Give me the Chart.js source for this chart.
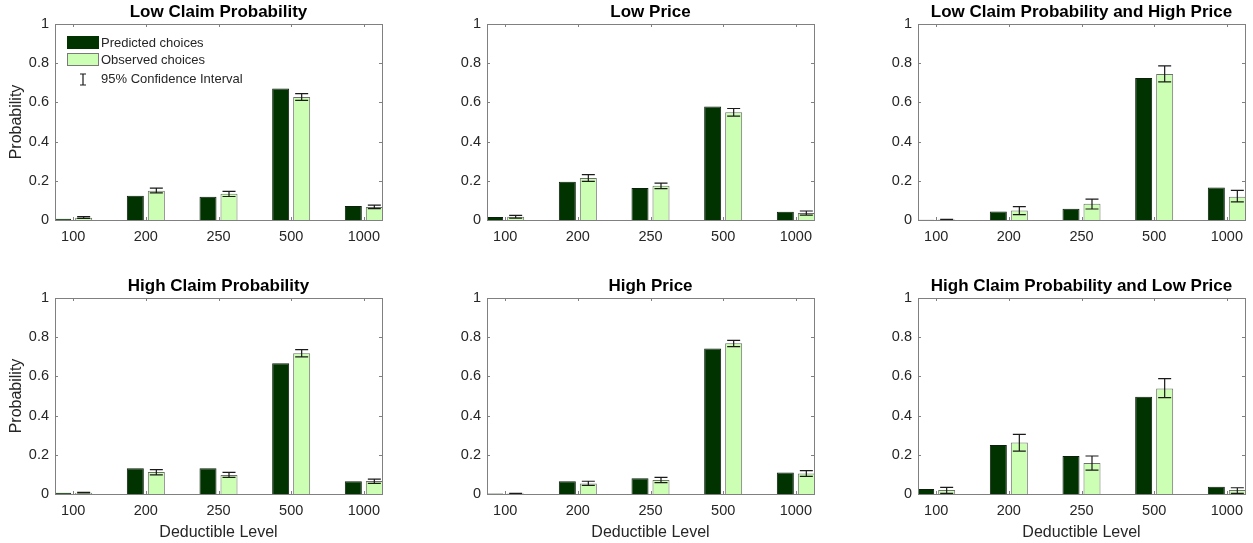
<!DOCTYPE html>
<html>
<head>
<meta charset="utf-8">
<script src="https://cdn.jsdelivr.net/npm/chart.js@4"></script>
<style>
  html, body { margin: 0; padding: 0; background: #fff; overflow: hidden; }
  body { width: 1253px; height: 543px; position: relative; }
  canvas { position: absolute; }
</style>
</head>
<body>
<script>
// deductible levels on the x axis
const levels = ['100', '200', '250', '500', '1000'];
const yTickLabels = ['0', '0.2', '0.4', '0.6', '0.8', '1'];
const panelTitles = [
  'Low Claim Probability', 'Low Price', 'Low Claim Probability and High Price',
  'High Claim Probability', 'High Price', 'High Claim Probability and Low Price'
];

// one row per panel, one value per deductible level
const predicted = [
  [0.007, 0.124, 0.119, 0.671, 0.071],
  [0.015, 0.195, 0.163, 0.579, 0.042],
  [0.001, 0.044, 0.058, 0.725, 0.166],
  [0.007, 0.132, 0.132, 0.667, 0.065],
  [0.002, 0.065, 0.080, 0.742, 0.110],
  [0.025, 0.250, 0.194, 0.496, 0.037]
];
const observed = [
  [0.012, 0.149, 0.134, 0.628, 0.066],
  [0.017, 0.214, 0.175, 0.550, 0.036],
  [0.002, 0.049, 0.083, 0.745, 0.119],
  [0.007, 0.112, 0.097, 0.718, 0.066],
  [0.002, 0.054, 0.071, 0.769, 0.105],
  [0.020, 0.263, 0.158, 0.538, 0.020]
];
const ciLower = [
  [0.008, 0.138, 0.120, 0.610, 0.058],
  [0.010, 0.197, 0.160, 0.530, 0.025],
  [0.000, 0.027, 0.056, 0.705, 0.092],
  [0.005, 0.098, 0.085, 0.700, 0.054],
  [0.001, 0.044, 0.058, 0.752, 0.090],
  [0.003, 0.219, 0.122, 0.492, 0.003]
];
const ciUpper = [
  [0.017, 0.163, 0.146, 0.645, 0.076],
  [0.024, 0.231, 0.188, 0.569, 0.046],
  [0.003, 0.068, 0.107, 0.786, 0.151],
  [0.009, 0.124, 0.110, 0.737, 0.076],
  [0.003, 0.065, 0.085, 0.784, 0.119],
  [0.034, 0.304, 0.194, 0.589, 0.032]
];

const FONT = '"Liberation Sans", Arial, Helvetica, sans-serif';
const darkGreen = '#003300';
const lightGreen = '#ccffb3';
const axisGray = '#808080';
const textGray = '#262626';

const colLeft = [55, 487, 918];
const rowTop = [24, 298];

// box, inward ticks, error bars and legend like the matlab figure
const matlabLook = {
  id: 'matlabLook',
  afterDatasetsDraw(chart, args, opts) {
    const k = opts.panel;
    const ctx = chart.ctx;
    const y = chart.scales.y;
    const meta = chart.getDatasetMeta(1);
    ctx.save();
    ctx.strokeStyle = '#1a1a1a';
    ctx.lineWidth = 1.2;
    ciLower[k].forEach((lo, i) => {
      const px = meta.data[i].x;
      const y0 = y.getPixelForValue(lo);
      const y1 = y.getPixelForValue(ciUpper[k][i]);
      ctx.beginPath();
      ctx.moveTo(px, y0); ctx.lineTo(px, y1);
      ctx.moveTo(px - 6.5, y0); ctx.lineTo(px + 6.5, y0);
      ctx.moveTo(px - 6.5, y1); ctx.lineTo(px + 6.5, y1);
      ctx.stroke();
    });
    ctx.restore();
  },
  afterDraw(chart, args, opts) {
    const ctx = chart.ctx;
    const a = chart.chartArea;
    const {x, y} = chart.scales;
    ctx.save();
    ctx.strokeStyle = axisGray;
    ctx.lineWidth = 1;
    ctx.strokeRect(Math.round(a.left) + 0.5, Math.round(a.top) + 0.5,
      Math.round(a.right - a.left), Math.round(a.bottom - a.top));
    ctx.beginPath();
    y.ticks.forEach(t => {
      const py = Math.round(y.getPixelForValue(t.value)) + 0.5;
      ctx.moveTo(a.left, py); ctx.lineTo(a.left + 3, py);
      ctx.moveTo(a.right, py); ctx.lineTo(a.right - 3, py);
    });
    x.ticks.forEach(t => {
      const px = Math.round(x.getPixelForValue(t.value)) + 0.5;
      ctx.moveTo(px, a.bottom); ctx.lineTo(px, a.bottom - 3);
      ctx.moveTo(px, a.top); ctx.lineTo(px, a.top + 3);
    });
    ctx.stroke();

    if (opts.panel === 0) {
      const lx = a.left + 12, tx = a.left + 46;
      ctx.fillStyle = darkGreen;
      ctx.fillRect(lx, a.top + 12, 32, 13);
      ctx.fillStyle = lightGreen;
      ctx.fillRect(lx, a.top + 29, 32, 13);
      ctx.strokeStyle = '#7a7a7a';
      ctx.strokeRect(lx + 0.5, a.top + 29.5, 31, 12);
      ctx.strokeStyle = '#1a1a1a';
      ctx.lineWidth = 1.2;
      const cx = lx + 16;
      ctx.beginPath();
      ctx.moveTo(cx, a.top + 50); ctx.lineTo(cx, a.top + 61);
      ctx.moveTo(cx - 3, a.top + 50); ctx.lineTo(cx + 3, a.top + 50);
      ctx.moveTo(cx - 3, a.top + 61); ctx.lineTo(cx + 3, a.top + 61);
      ctx.stroke();
      ctx.fillStyle = textGray;
      ctx.font = '13px ' + FONT;
      ctx.textBaseline = 'middle';
      ctx.fillText('Predicted choices', tx, a.top + 19);
      ctx.fillText('Observed choices', tx, a.top + 36);
      ctx.fillText('95% Confidence Interval', tx, a.top + 55);
    }
    ctx.restore();
  }
};

panelTitles.forEach((title, k) => {
  const col = k % 3, row = Math.floor(k / 3);
  const canvas = document.createElement('canvas');
  canvas.width = 390;
  canvas.height = 270;
  canvas.style.left = (colLeft[col] - 55) + 'px';
  canvas.style.top = (rowTop[row] - 24) + 'px';
  document.body.appendChild(canvas);

  new Chart(canvas, {
    type: 'bar',
    data: {
      datasets: [
        {
          label: 'Predicted choices',
          data: predicted[k].map((v, i) => ({x: i + 1, y: v})),
          backgroundColor: darkGreen,
          borderColor: '#0d1f0d',
          borderWidth: 1
        },
        {
          label: 'Observed choices',
          data: observed[k].map((v, i) => ({x: i + 1, y: v})),
          backgroundColor: lightGreen,
          borderColor: '#6f6f6f',
          borderWidth: 1
        }
      ]
    },
    options: {
      responsive: false,
      animation: false,
      events: [],
      categoryPercentage: 0.578,
      barPercentage: 0.81,
      layout: { padding: { left: 0, right: 8, top: 0, bottom: 0 } },
      plugins: {
        legend: { display: false },
        tooltip: { enabled: false },
        title: {
          display: true,
          text: title,
          fullSize: false,
          color: '#000',
          font: { family: FONT, size: 17, weight: 'bold' },
          padding: { top: 2, bottom: 1.6 }
        },
        matlabLook: { panel: k }
      },
      scales: {
        x: {
          type: 'linear',
          offset: false,
          min: 0.75,
          max: 5.25,
          afterBuildTicks: s => { s.ticks = levels.map((l, i) => ({value: i + 1})); },
          afterFit: s => { s.height = 50; },
          grid: { display: false, drawTicks: false },
          border: { display: false },
          ticks: {
            color: textGray,
            padding: 8,
            maxRotation: 0,
            autoSkip: false,
            font: { family: FONT, size: 14.5 },
            callback: v => levels[Math.round(v) - 1]
          },
          title: {
            display: row === 1,
            text: 'Deductible Level',
            color: textGray,
            font: { family: FONT, size: 16 },
            padding: { top: 2, bottom: 2 }
          }
        },
        y: {
          min: 0,
          max: 1,
          afterBuildTicks: s => { s.ticks = yTickLabels.map(t => ({value: Number(t)})); },
          afterFit: s => { s.width = 55; },
          grid: { display: false, drawTicks: false },
          border: { display: false },
          ticks: {
            color: textGray,
            padding: 6,
            font: { family: FONT, size: 14.5 },
            callback: (v, i) => yTickLabels[i]
          },
          title: {
            display: col === 0,
            text: 'Probability',
            color: textGray,
            font: { family: FONT, size: 16 },
            padding: { top: 7, bottom: 0 }
          }
        }
      }
    },
    plugins: [matlabLook]
  });
});
</script>
</body>
</html>
